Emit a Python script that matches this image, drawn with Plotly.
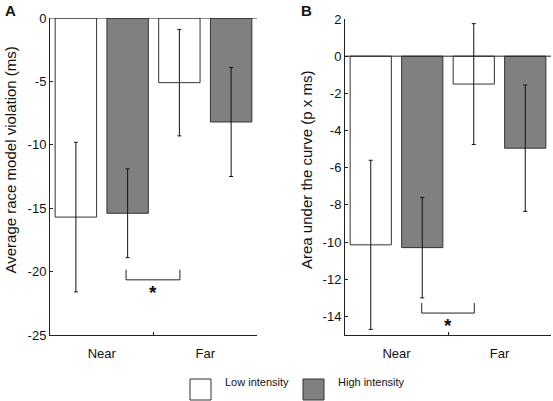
import plotly.graph_objects as go

categories = ["Near", "Far"]
series_names = ["Low intensity", "High intensity"]

# Panel A: average race model violation (ms)
a_low = [-15.7, -5.1]
a_low_err = [5.9, 4.2]
a_high = [-15.4, -8.2]
a_high_err = [3.5, 4.3]
a_ticks = [0, -5, -10, -15, -20, -25]

# Panel B: area under the curve (p x ms)
b_low = [-10.15, -1.5]
b_low_err = [4.55, 3.25]
b_high = [-10.3, -4.95]
b_high_err = [2.7, 3.4]
b_ticks = [2, 0, -2, -4, -6, -8, -10, -12, -14]

FONT = "Liberation Sans, Arial, sans-serif"
LOW_COLOR = "#ffffff"
HIGH_COLOR = "#808080"
EDGE = "#333333"
W, H = 553, 401


def px_x(v):
    return v / W


def px_y(v):
    return (H - v) / H


fig = go.Figure()

panels = [
    ("x", "y", a_low, a_low_err, a_high, a_high_err),
    ("x2", "y2", b_low, b_low_err, b_high, b_high_err),
]
for xa, ya, lo, lo_e, hi, hi_e in panels:
    for name, vals, errs, col in [
        (series_names[0], lo, lo_e, LOW_COLOR),
        (series_names[1], hi, hi_e, HIGH_COLOR),
    ]:
        fig.add_trace(go.Bar(
            x=categories, y=vals, name=name, xaxis=xa, yaxis=ya,
            marker=dict(color=col, line=dict(color=EDGE, width=1)),
            error_y=dict(type="data", array=errs, visible=True,
                         color="#111111", thickness=1, width=2),
            showlegend=False,
        ))

axis_common = dict(
    showline=True, linecolor="#222222", linewidth=1,
    ticks="inside", ticklen=3, tickcolor="#222222",
    showgrid=False, zeroline=False, automargin=False,
    tickfont=dict(family=FONT, size=13, color="#111111"),
)

fig.update_layout(
    width=W, height=H,
    margin=dict(l=0, r=0, t=0, b=0),
    paper_bgcolor="white", plot_bgcolor="white",
    barmode="group", bargap=0.0, bargroupgap=0.2,
    font=dict(family=FONT, color="#111111"),
    xaxis=dict(domain=[px_x(50), px_x(257)], anchor="y",
               tickson="boundaries", ticklabelstandoff=6, **axis_common),
    yaxis=dict(domain=[px_y(335), px_y(18)], anchor="x",
               range=[-25, 0], tickvals=a_ticks,
               ticktext=[str(v) for v in a_ticks], **axis_common),
    xaxis2=dict(domain=[px_x(345), px_x(551)], anchor="y2",
                tickson="boundaries", ticklabelstandoff=6, **axis_common),
    yaxis2=dict(domain=[px_y(335), px_y(19)], anchor="x2",
                range=[-15, 2], tickvals=b_ticks,
                ticktext=[str(v) for v in b_ticks], **axis_common),
)

# zero lines
for xr, yr in [("x domain", "y"), ("x2 domain", "y2")]:
    fig.add_shape(type="line", xref=xr, yref=yr, x0=0, x1=1, y0=0, y1=0,
                  line=dict(color="#222222", width=1))

# significance brackets
brackets = [
    ("x", "y", 0.235, 0.755, -19.85, -20.65, -21.4),
    ("x2", "y2", 0.245, 0.755, -13.28, -13.82, -14.35),
]
for xr, yr, x0, x1, ytop, ybar, ystar in brackets:
    fig.add_shape(type="path", xref=xr, yref=yr,
                  path=f"M {x0},{ytop} L {x0},{ybar} L {x1},{ybar} L {x1},{ytop}",
                  line=dict(color="#222222", width=1))
    fig.add_annotation(x=(x0 + x1) / 2, y=ystar, xref=xr, yref=yr, text="<b>*</b>",
                       showarrow=False, font=dict(family=FONT, size=19, color="#111111"),
                       xanchor="center", yshift=-3)

# y-axis titles
fig.add_annotation(x=px_x(9.5), y=px_y(160), xref="paper", yref="paper",
                   text="Average race model violation (ms)", textangle=-90,
                   xanchor="center", yanchor="middle",
                   showarrow=False, font=dict(family=FONT, size=15, color="#111111"))
fig.add_annotation(x=px_x(306), y=px_y(170), xref="paper", yref="paper",
                   text="Area under the curve (p x ms)", textangle=-90,
                   xanchor="center", yanchor="middle",
                   showarrow=False, font=dict(family=FONT, size=15, color="#111111"))

# panel letters
fig.add_annotation(x=px_x(10), y=px_y(11), xref="paper", yref="paper", text="<b>A</b>",
                   xanchor="center", yanchor="middle",
                   showarrow=False, font=dict(family=FONT, size=15, color="#111111"))
fig.add_annotation(x=px_x(306), y=px_y(11), xref="paper", yref="paper", text="<b>B</b>",
                   xanchor="center", yanchor="middle",
                   showarrow=False, font=dict(family=FONT, size=15, color="#111111"))

# legend
legend_items = [(190, 223, LOW_COLOR, series_names[0]), (303, 336, HIGH_COLOR, series_names[1])]
for bx, tx, col, label in legend_items:
    fig.add_shape(type="rect", xref="paper", yref="paper",
                  x0=px_x(bx), x1=px_x(bx + 21), y0=px_y(400), y1=px_y(379),
                  fillcolor=col, line=dict(color=EDGE, width=1))
    fig.add_annotation(x=px_x(tx), y=px_y(390), xref="paper", yref="paper",
                       text=label, showarrow=False, xanchor="left",
                       font=dict(family=FONT, size=11, color="#111111"))

fig.write_html("out.html", config={"displayModeBar": False},
               post_script="document.body.style.margin='0px';")
